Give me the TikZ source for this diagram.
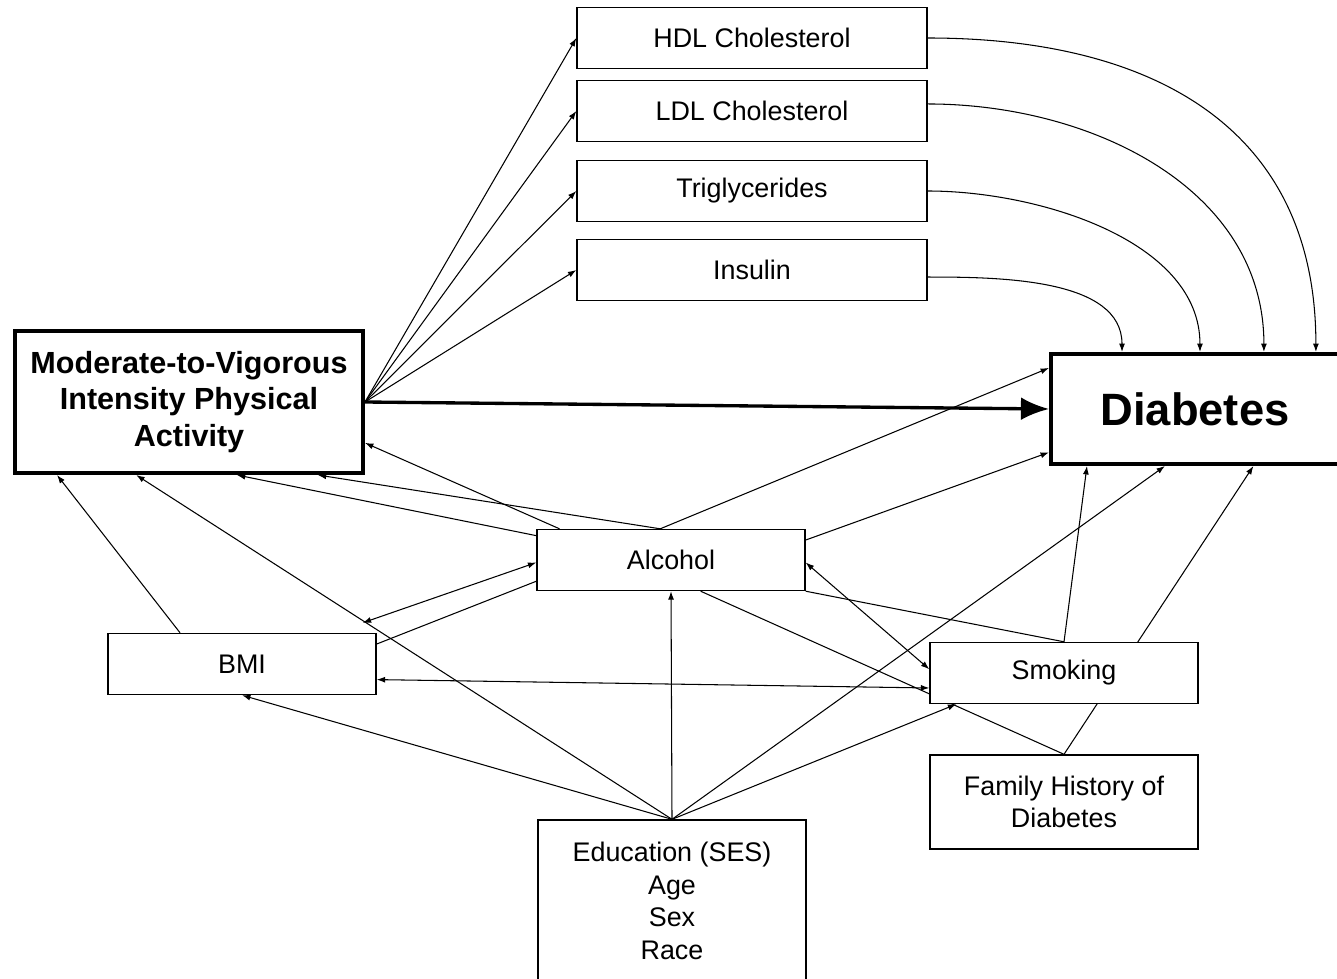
\documentclass[tikz,border=0pt]{standalone}
\usepackage{fontspec}
\setmainfont{Liberation Sans}
\usetikzlibrary{arrows.meta,calc,backgrounds}

\begin{document}
\begin{tikzpicture}[x=0.02cm,y=-0.02cm,
  box/.style={draw=black,line width=0.8pt,fill=white,minimum width=5.36cm,minimum height=1.22cm,inner sep=0pt,align=center,font=\fontsize{15.3}{18.5}\selectfont},
  medbox/.style={box,minimum width=7cm},
  bigbox/.style={box,line width=2.3pt,font=\bfseries\fontsize{17.4}{21}\selectfont},
  arr/.style={-{Latex[length=4.8pt,width=3.4pt]},line width=0.6pt},
  dblarr/.style={{Latex[length=4.8pt,width=3.4pt]}-{Latex[length=4.8pt,width=3.4pt]},line width=0.6pt},
  ln/.style={line width=0.6pt}]
  \useasboundingbox (0,0) rectangle (1337,979);

  \node[medbox] (hdl) at (752,38) {HDL Cholesterol};
  \node[medbox] (ldl) at (752,111) {LDL Cholesterol};
  \node[medbox] (trig) at (752,191) {Triglycerides};
  \node[medbox] (ins) at (752,270) {Insulin};
  \node[bigbox,minimum width=6.96cm,minimum height=2.84cm] (mvpa) at (189,402) {Moderate-to-Vigorous\\Intensity Physical\\Activity};
  \node[bigbox,minimum width=5.76cm,minimum height=2.2cm,font=\bfseries\fontsize{25.8}{30}\selectfont] (dia) at (1195,409) {Diabetes};
  \node[box] (alc) at (671,560) {Alcohol};
  \node[box] (bmi) at (242,664) {BMI};
  \node[box] (smk) at (1064,673) {Smoking};
  \node[box,minimum height=1.88cm] (fh) at (1064,802) {Family History of\\Diabetes};
  \node[box,minimum height=3.24cm] (edu) at (672,901) {Education (SES)\\Age\\Sex\\Race};

  \begin{scope}[on background layer]
    % exposure to mediators and outcome
    \foreach \m in {hdl,ldl,trig,ins}
      \draw[arr] (mvpa.east) -- (\m.west);
    \draw[-{Latex[length=16pt,width=13pt]},line width=1.9pt] (mvpa.east) -- (dia.west);

    % mediators to diabetes
    \draw[arr] (hdl.east) to[out=0,in=90,looseness=1.15] ($(dia.north west)!0.914!(dia.north east)$);
    \draw[arr] ([yshift=4pt]ldl.east) to[out=0,in=90,looseness=1] ($(dia.north west)!0.736!(dia.north east)$);
    \draw[arr] (trig.east) to[out=0,in=90,looseness=0.9] ($(dia.north west)!0.517!(dia.north east)$);
    \draw[arr] ([yshift=-4pt]ins.east) to[out=0,in=90,looseness=0.9] ($(dia.north west)!0.25!(dia.north east)$);

    % covariates
    \draw[arr] ($(bmi.north west)!0.27!(bmi.north east)$) -- ($(mvpa.south west)!0.125!(mvpa.south east)$);
    \draw[arr] (edu.north) -- ($(mvpa.south west)!0.35!(mvpa.south east)$);
    \draw[arr] ($(alc.north west)!0.11!(alc.south west)$) -- ($(mvpa.south west)!0.636!(mvpa.south east)$);
    \draw[arr] ($(alc.north west)!0.46!(alc.north east)$) -- ($(mvpa.south west)!0.866!(mvpa.south east)$);
    \draw[arr] ($(alc.north west)!0.086!(alc.north east)$) -- ($(mvpa.north east)!0.78!(mvpa.south east)$);
    \draw[arr] ($(alc.north west)!0.46!(alc.north east)$) -- ($(dia.north west)!0.14!(dia.south west)$);
    \draw[arr] ($(alc.north east)!0.18!(alc.south east)$) -- ($(dia.north west)!0.88!(dia.south west)$);

    \coordinate (bmitip) at ($(bmi.north east)+(-14,-10)$);
    \draw[dblarr] ($(alc.north west)!0.54!(alc.south west)$) -- (bmitip);
    \draw[ln] ($(bmi.north east)!0.18!(bmi.south east)$) -- ($(alc.north west)!0.84!(alc.south west)$);
    \draw[arr] (edu.north) -- (bmi.south);
    \draw[dblarr] ($(bmi.north east)!0.75!(bmi.south east)$) -- ($(smk.north west)!0.74!(smk.south west)$);
    \draw[dblarr] ($(alc.north east)!0.54!(alc.south east)$) -- ($(smk.north west)!0.44!(smk.south west)$);
    \draw[ln] (alc.south east) -- (smk.north);
    \draw[arr] (smk.north) -- ($(dia.south west)!0.13!(dia.south east)$);
    \draw[arr] (fh.north) -- ($(dia.south west)!0.70!(dia.south east)$);
    \draw[ln] ($(alc.south west)!0.61!(alc.south east)$) -- (fh.north);
    \draw[arr] (edu.north) -- ($(dia.south west)!0.397!(dia.south east)$);
    \draw[arr] (edu.north) -- ($(smk.south west)!0.1!(smk.south east)$);
    \draw[arr] (edu.north) -- (alc.south);
  \end{scope}
\end{tikzpicture}
\end{document}
